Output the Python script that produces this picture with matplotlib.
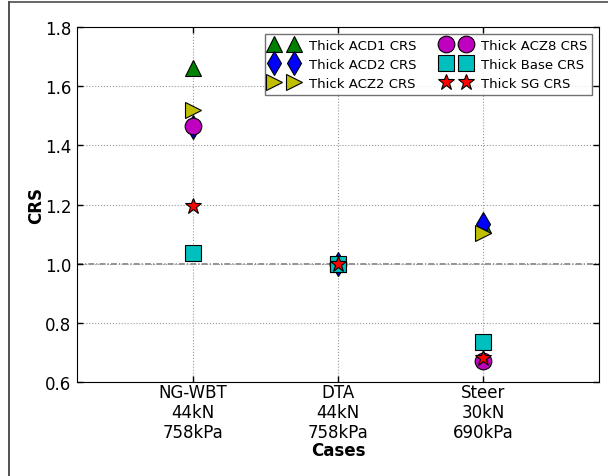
import matplotlib
matplotlib.use('Agg')
import matplotlib.pyplot as plt
from matplotlib.lines import Line2D

cases = ['NG-WBT\n44kN\n758kPa', 'DTA\n44kN\n758kPa', 'Steer\n30kN\n690kPa']
x = [1, 2, 3]

acd1 = [1.66, 1.00, 1.13]
acd2 = [1.462, 1.00, 1.135]
acz2 = [1.52, 1.00, 1.105]
acz8 = [1.464, 1.00, 0.67]
base = [1.035, 1.00, 0.735]
sg = [1.195, 1.00, 0.68]

plt.rcParams['font.family'] = 'DejaVu Sans'
plt.rcParams['font.size'] = 12
plt.rcParams['xtick.direction'] = 'in'
plt.rcParams['ytick.direction'] = 'in'
plt.rcParams['xtick.top'] = True
plt.rcParams['ytick.right'] = True

fig = plt.figure(figsize=(6.08, 4.77), dpi=100)
ax = fig.add_axes([0.1266, 0.197, 0.8586, 0.7443])

ms = 12
ax.plot(x, acd1, '^', color='#008000', mec='k', mew=0.8, ms=ms, ls='none', label='Thick ACD1 CRS')
ax.plot(x, acd2, 'd', color='#0000ff', mec='k', mew=0.8, ms=ms, ls='none', label='Thick ACD2 CRS')
ax.plot(x, acz2, '>', color='#bfbf00', mec='k', mew=0.8, ms=ms, ls='none', label='Thick ACZ2 CRS')
ax.plot(x, acz8, 'o', color='#bf00bf', mec='k', mew=0.8, ms=ms, ls='none', label='Thick ACZ8 CRS')
ax.plot(x, base, 's', color='#00bfbf', mec='k', mew=0.8, ms=ms, ls='none', label='Thick Base CRS')
ax.plot(x, sg, '*', color='#ff0000', mec='k', mew=0.8, ms=ms, ls='none', label='Thick SG CRS')

# reference level CRS = 1
ax.axhline(1.0, color='0.5', ls='-.', lw=1.2, dashes=(3.5, 1.3, 0.7, 1.3), zorder=0)

ax.set_xlim(0.2, 3.8)
ax.set_ylim(0.6, 1.8)
ax.set_xticks(x)
ax.set_xticklabels(cases, linespacing=1.12)
ax.set_yticks([0.6, 0.8, 1.0, 1.2, 1.4, 1.6, 1.8])
ax.tick_params(length=4, width=1)
ax.tick_params(axis='x', pad=1)
ax.tick_params(axis='y', pad=4)
ax.grid(True, ls=':', color='0.6', lw=0.8)
ax.set_axisbelow(True)
ax.set_xlabel('Cases', fontweight='bold', labelpad=0)
ax.set_ylabel('CRS', fontweight='bold', labelpad=0)

leg = ax.legend(loc='upper right', ncol=2, numpoints=2, fontsize=9.5, fancybox=False,
                handletextpad=0.8, columnspacing=2.0, borderpad=0.4, labelspacing=0.45,
                handlelength=2.1, borderaxespad=0.5)
leg.get_frame().set_edgecolor('0.3')
leg.get_frame().set_linewidth(1)

# outer frame of the figure
fig.add_artist(Line2D([9 / 608, 9 / 608], [0, 1 - 3 / 477], transform=fig.transFigure, color='0.2', lw=1.2))
fig.add_artist(Line2D([9 / 608, 1], [1 - 3 / 477, 1 - 3 / 477], transform=fig.transFigure, color='0.3', lw=1.2))

fig.savefig('out.png', dpi=100)
